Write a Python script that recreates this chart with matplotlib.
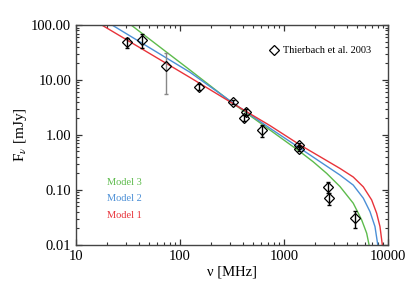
import numpy as np
import matplotlib
matplotlib.use("Agg")
import matplotlib.pyplot as plt
from matplotlib.ticker import FixedLocator, FuncFormatter, LogLocator, NullFormatter

plt.rcParams['font.family'] = ['Liberation Serif', 'DejaVu Serif']
plt.rcParams['mathtext.fontset'] = 'stix'

# Data points (Thierbach et al. 2003)
freq = [30.9, 43.0, 73.8, 151.0, 326.0, 408.0, 430.0, 608.5, 1380.0, 1400.0, 2675.0, 2700.0, 4850.0]
flux = [48.4, 53.4, 18.0, 7.46, 3.95, 2.06, 2.65, 1.23, 0.56, 0.66, 0.115, 0.0707, 0.0306]
err = [10.0, 15.0, 12.5, 1.0, 0.3, 0.25, 0.3, 0.3, 0.06, 0.06, 0.027, 0.017, 0.01]
gray_err = [False, False, True, False, False, False, False, False, False, False, False, False, False]

# Model curves (log10 nu, log10 F)
m1_lognu = [1.247, 2.096, 2.510, 2.865, 3.154, 3.346, 3.539, 3.666, 3.763, 3.843, 3.891, 3.923, 3.945]
m1_logf = [2.000, 1.045, 0.570, 0.170, -0.182, -0.395, -0.610, -0.765, -0.945, -1.182, -1.424, -1.667, -1.990]
m2_lognu = [1.346, 2.096, 2.510, 2.865, 3.154, 3.346, 3.539, 3.666, 3.763, 3.827, 3.875, 3.901]
m2_logf = [2.000, 1.140, 0.582, 0.122, -0.242, -0.486, -0.730, -0.912, -1.151, -1.395, -1.667, -1.990]
m3_lognu = [1.529, 2.096, 2.510, 2.865, 3.154, 3.282, 3.411, 3.539, 3.666, 3.747, 3.795, 3.817]
m3_logf = [2.000, 1.180, 0.573, 0.090, -0.304, -0.490, -0.700, -0.940, -1.242, -1.546, -1.787, -1.990]

ytick_vals = [0.01, 0.1, 1.0, 10.0, 100.0]
xtick_vals = [10, 100, 1000, 10000]

red = '#e8333a'
blue = '#4b8fd6'
green = '#5dbb4c'

fig = plt.figure(figsize=(4.11, 2.94), dpi=100)
ax = fig.add_axes([0.185, 0.167, 0.759, 0.748])

ax.plot(10 ** np.array(m3_lognu), 10 ** np.array(m3_logf), color=green, lw=1.0)
ax.plot(10 ** np.array(m2_lognu), 10 ** np.array(m2_logf), color=blue, lw=1.0)
ax.plot(10 ** np.array(m1_lognu), 10 ** np.array(m1_logf), color=red, lw=1.0)

for f, s, e, g in zip(freq, flux, err, gray_err):
    ax.errorbar([f], [s], yerr=[e], fmt='none', ecolor='#888888' if g else 'black',
                elinewidth=1.0, capsize=1.5, capthick=1.0, zorder=3)
ax.plot(freq, flux, linestyle='none', marker='D', ms=5.5, mfc='none', mec='black', mew=0.9, zorder=4)

ax.set_xscale('log')
ax.set_yscale('log')
ax.set_xlim(10, 10000)
ax.set_ylim(0.01, 100)

ax.yaxis.set_major_locator(FixedLocator(ytick_vals))
ax.yaxis.set_major_formatter(FuncFormatter(lambda v, p: '%.2f' % v))
ax.xaxis.set_major_locator(FixedLocator(xtick_vals))
ax.xaxis.set_major_formatter(FuncFormatter(lambda v, p: '%d' % round(v)))
ax.xaxis.set_minor_locator(LogLocator(base=10, subs=np.arange(2, 10)))
ax.yaxis.set_minor_locator(LogLocator(base=10, subs=np.arange(2, 10)))
ax.xaxis.set_minor_formatter(NullFormatter())
ax.yaxis.set_minor_formatter(NullFormatter())

ax.tick_params(which='both', direction='in', top=True, right=True, colors='#333333', labelcolor='black', labelsize=10.5)
ax.tick_params(which='major', length=4.5, width=0.9)
ax.tick_params(which='minor', length=2.2, width=0.8)
for sp in ax.spines.values():
    sp.set_color('#444444')
    sp.set_linewidth(1.0)

ax.set_xlabel('ν [MHz]', fontsize=10.5, labelpad=2)
ax.set_ylabel(r'F$_\nu$ [mJy]', fontsize=11, labelpad=1.5)

# legend for data
ax.plot([0.635], [0.884], transform=ax.transAxes, marker='D', ms=5.5, mfc='none', mec='black', mew=0.9, linestyle='none')
ax.text(0.665, 0.884, 'Thierbach et al. 2003', transform=ax.transAxes, fontsize=7.5, va='center', ha='left')

ax.text(0.10, 0.285, 'Model 3', transform=ax.transAxes, color=green, fontsize=7.5, va='center')
ax.text(0.10, 0.21, 'Model 2', transform=ax.transAxes, color=blue, fontsize=7.5, va='center')
ax.text(0.10, 0.135, 'Model 1', transform=ax.transAxes, color=red, fontsize=7.5, va='center')

fig.savefig('out.png', dpi=100)
